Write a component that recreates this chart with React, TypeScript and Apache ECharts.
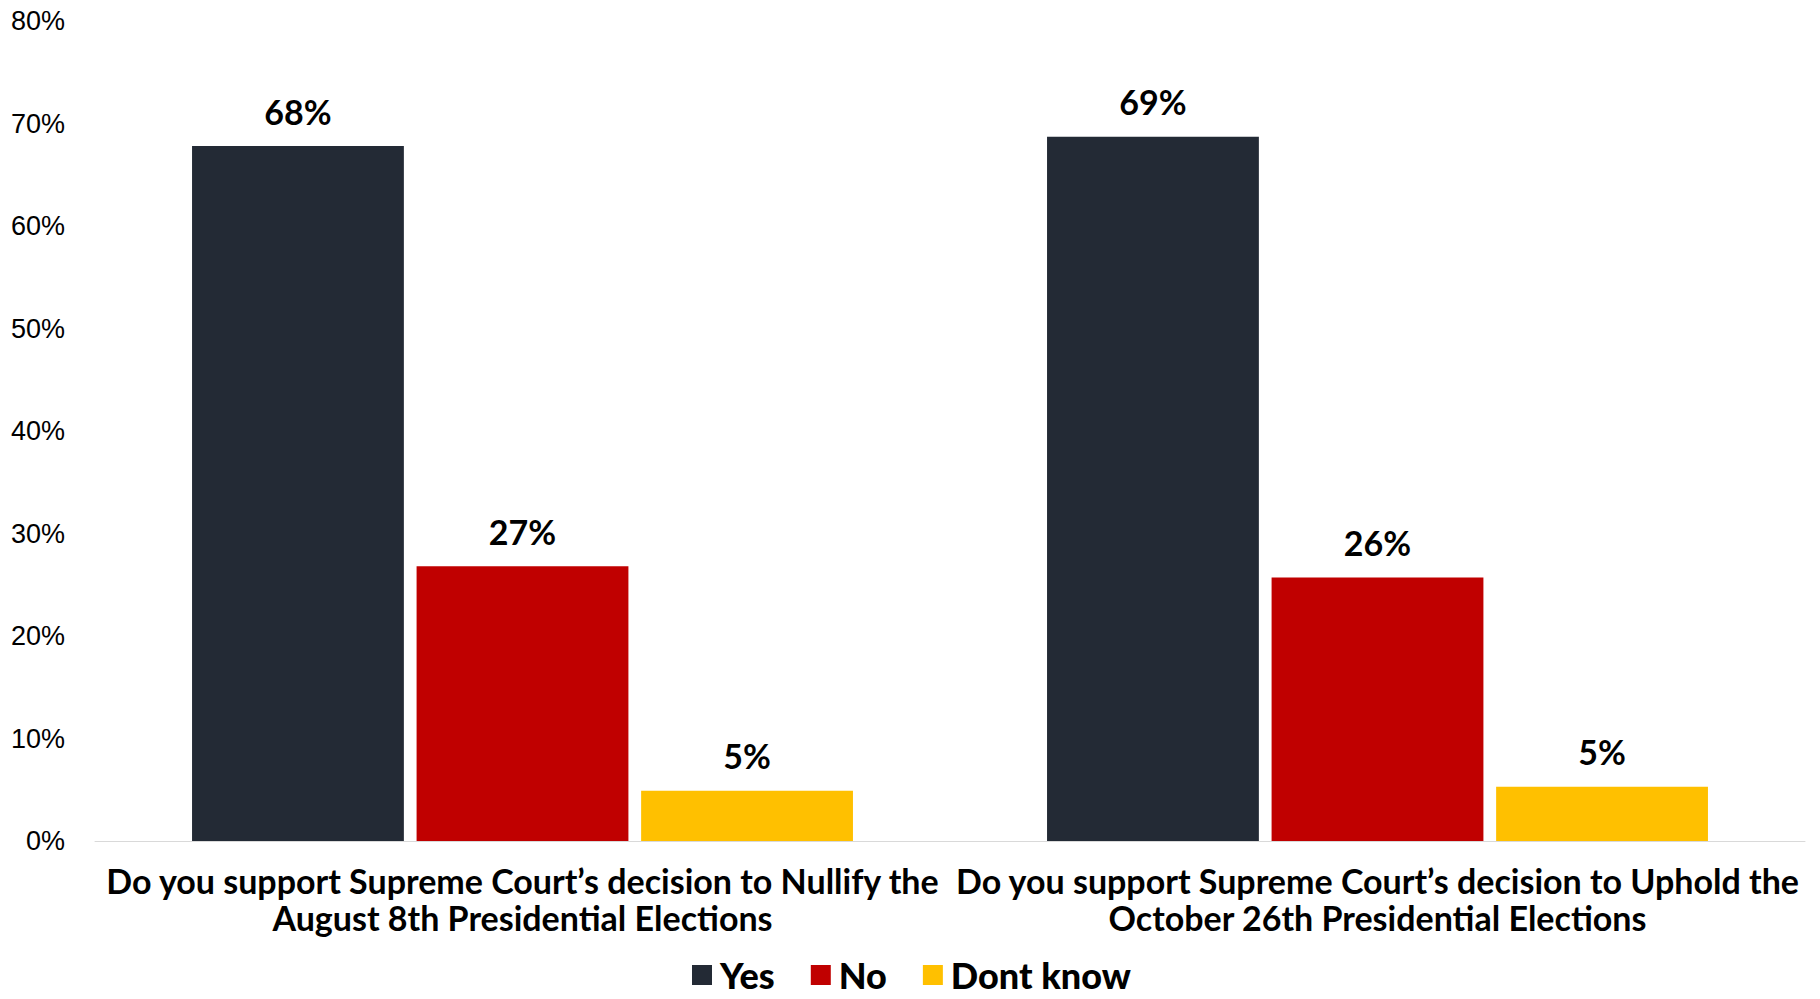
import React, { useEffect, useRef } from "react";
import * as echarts from "echarts";

const categories = [
  "Do you support Supreme Court’s decision to Nullify the\nAugust 8th Presidential Elections",
  "Do you support Supreme Court’s decision to Uphold the\nOctober 26th Presidential Elections",
];
const yesValues = [67.8, 68.7];
const noValues = [26.8, 25.7];
const dontKnowValues = [4.9, 5.3];
const seriesNames = ["Yes", "No", "Dont know"];
const seriesColors = ["#232a35", "#c00000", "#ffc000"];
const yTicks = { min: 0, max: 80, interval: 10 };

const BOLD_FONT = "Lato";

export default function App() {
  const ref = useRef<HTMLDivElement>(null);
  useEffect(() => {
    if (!ref.current) return;
    const chart = echarts.init(ref.current, undefined, { renderer: "svg" });
    const label = {
      show: true,
      position: "top",
      distance: 18,
      fontFamily: BOLD_FONT,
      fontWeight: "bold",
      fontSize: 34,
      color: "#000",
      formatter: (p: any) => Math.round(p.value) + "%",
    };
    const data = [yesValues, noValues, dontKnowValues];
    chart.setOption({
      animation: false,
      backgroundColor: "#fff",
      grid: { left: 95, right: 15, top: 21, bottom: 158, containLabel: false },
      legend: {
        data: seriesNames,
        left: 692,
        top: 957,
        padding: 0,
        itemWidth: 20,
        itemHeight: 20,
        itemGap: 36,
        icon: "rect",
        textStyle: {
          fontFamily: BOLD_FONT,
          fontWeight: 900,
          fontSize: 36,
          lineHeight: 34,
          color: "#000",
          padding: [0, 0, 0, 3],
        },
      },
      xAxis: {
        type: "category",
        data: categories,
        axisLine: { lineStyle: { color: "#d9d9d9", width: 1 } },
        axisTick: { show: false },
        axisLabel: {
          interval: 0,
          margin: 21,
          fontFamily: BOLD_FONT,
          fontWeight: "bold",
          fontSize: 34,
          lineHeight: 37,
          color: "#000",
          align: "center",
        },
      },
      yAxis: {
        type: "value",
        min: yTicks.min,
        max: yTicks.max,
        interval: yTicks.interval,
        splitLine: { show: false },
        axisLine: { show: false },
        axisTick: { show: false },
        axisLabel: {
          formatter: "{value}%",
          margin: 30,
          fontFamily: "Liberation Sans",
          fontSize: 27,
          color: "#000",
        },
      },
      series: seriesNames.map((name, i) => ({
        name,
        type: "bar",
        data: data[i],
        itemStyle: { color: seriesColors[i] },
        barGap: "6%",
        barCategoryGap: "22.7%",
        label,
      })),
    });
    return () => chart.dispose();
  }, []);
  return (
    <div
      ref={ref}
      style={{ position: "fixed", left: 0, top: 0, width: 1820, height: 999 }}
    />
  );
}
